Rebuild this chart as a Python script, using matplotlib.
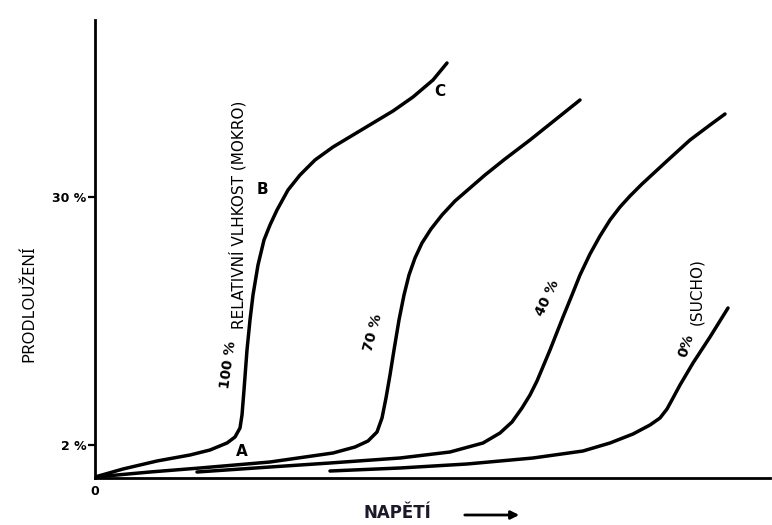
"""Prodloužení vlákna v závislosti na napětí při různé relativní vlhkosti.

Schematic stress-strain curves (100 %, 70 %, 40 %, 0 % RH) redrawn
from a scanned textbook figure. Saves out.png (772x525 px).
"""

import matplotlib.pyplot as plt

# curves: x = napětí, y = prodloužení (arbitrary units)
RH100_X = [0, 28, 62, 95, 115, 132, 140, 145, 147, 149, 152, 155, 158, 163, 169,
           175, 182, 193, 205, 220, 238, 258, 278, 298, 318, 338, 352]
RH100_Y = [1, 9, 17, 23, 28, 35, 41, 50, 63, 88, 128, 158, 183, 213, 238,
           253, 268, 288, 303, 318, 331, 343, 355, 367, 381, 398, 415]

RH70_X = [0, 55, 105, 175, 238, 260, 273, 282, 287, 291, 295, 299, 304, 309,
          314, 320, 327, 336, 347, 360, 375, 390, 410, 435, 460, 485]
RH70_Y = [1, 6, 10, 16, 25, 31, 37, 46, 60, 80, 103, 128, 158, 183,
          203, 220, 235, 249, 263, 277, 290, 303, 319, 338, 358, 378]

RH40_X = [102, 175, 235, 305, 355, 388, 405, 417, 427, 435, 442, 455, 468, 477,
          485, 495, 505, 515, 525, 535, 547, 560, 573, 595, 615, 630]
RH40_Y = [6, 11, 15, 20, 26, 35, 45, 56, 70, 83, 97, 128, 161, 183,
          203, 224, 242, 258, 271, 282, 294, 306, 318, 338, 353, 364]

RH0_X = [235, 305, 372, 438, 488, 515, 538, 555, 565, 572, 578, 585, 598, 615, 633]
RH0_Y = [7, 10, 14, 20, 27, 35, 44, 53, 60, 69, 80, 93, 115, 141, 170]

Y_TICKS = [33, 281]
Y_TICK_LABELS = ["2 %", "30 %"]

# point labels A, B, C on the 100 % curve
POINT_LABELS = ["A", "B", "C"]
POINT_X = [147, 167, 345]
POINT_Y = [26, 288, 386]


def main() -> None:
    fig = plt.figure(figsize=(7.72, 5.25), dpi=100)
    ax = fig.add_axes([95 / 772, 47 / 525, 675 / 772, 458 / 525])

    lw = 2.5
    for xs, ys in [(RH100_X, RH100_Y), (RH70_X, RH70_Y),
                   (RH40_X, RH40_Y), (RH0_X, RH0_Y)]:
        ax.plot(xs, ys, color="black", linewidth=lw,
                solid_joinstyle="round", solid_capstyle="round")

    ax.set_xlim(0, 675)
    ax.set_ylim(0, 458)
    for side in ["top", "right"]:
        ax.spines[side].set_visible(False)
    for side in ["left", "bottom"]:
        ax.spines[side].set_linewidth(2.0)

    ax.set_yticks(Y_TICKS)
    ax.set_yticklabels(Y_TICK_LABELS, fontsize=9, fontweight="bold")
    ax.tick_params(axis="y", length=5, width=1.6, pad=1)
    ax.set_xticks([0])
    ax.set_xticklabels(["0"], fontsize=9, fontweight="bold")
    ax.tick_params(axis="x", length=0, pad=5)

    ax.set_ylabel("PRODLOUŽENÍ", family="Noto Sans", fontsize=12)
    ax.yaxis.set_label_coords(-0.085, 0.38)

    for lab, x, y in zip(POINT_LABELS, POINT_X, POINT_Y):
        ax.text(x, y, lab, fontsize=11, fontweight="bold",
                ha="center", va="center")

    ax.text(133, 113, "100 %", rotation=82, fontsize=10, fontweight="bold",
            ha="center", va="center")
    ax.text(143, 263, "RELATIVNÍ VLHKOST (MOKRO)", rotation=90, fontsize=11,
            ha="center", va="center")
    ax.text(278, 145, "70 %", rotation=75, fontsize=10, fontweight="bold",
            ha="center", va="center")
    ax.text(452, 180, "40 %", rotation=65, fontsize=10, fontweight="bold",
            ha="center", va="center")
    ax.text(591, 132, "0%", rotation=72, fontsize=10, fontweight="bold",
            ha="center", va="center")
    ax.text(602, 186, "(SUCHO)", rotation=90, fontsize=11,
            ha="center", va="center")

    # x axis title with arrow below the plot
    fig.text(397 / 772, 1 - 513 / 525, "NAPĚTÍ", fontsize=12,
             fontweight="bold", ha="center", va="center", color="#1a1a2a")
    ax.annotate("", xy=(522, 10), xytext=(462, 10),
                xycoords="figure pixels", textcoords="figure pixels",
                arrowprops=dict(arrowstyle="-|>", color="black", lw=2.0,
                                mutation_scale=12))

    fig.savefig("out.png", dpi=100)
    plt.close(fig)


if __name__ == "__main__":
    main()
